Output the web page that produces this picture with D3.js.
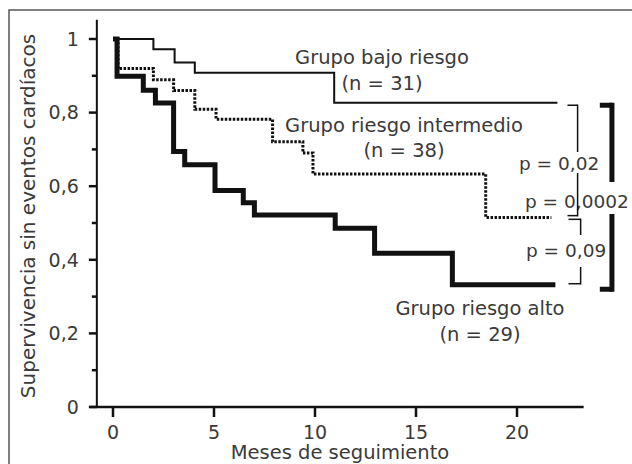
<!DOCTYPE html>
<html>
<head>
<meta charset="utf-8">
<script src="https://cdn.jsdelivr.net/npm/d3@7"></script>
<style>
  body { margin: 0; background: #fff; }
  text { font-family: "DejaVu Sans", sans-serif; fill: #3a3a3a; }
</style>
</head>
<body>
<div id="container"></div>
<script>
// Kaplan-Meier curves (months, survival)
const lowTimes = [0, 2.0, 3.05, 4.05, 10.95, 22.0];
const lowSurv  = [1, 0.972, 0.936, 0.908, 0.827, 0.827];

const midTimes = [0, 0.25, 2.0, 3.0, 4.05, 5.1, 7.9, 9.4, 9.9, 18.45, 21.7];
const midSurv  = [1, 0.92, 0.889, 0.86, 0.809, 0.782, 0.721, 0.69, 0.633, 0.515, 0.515];

const highTimes = [0, 0.2, 1.5, 2.1, 3.0, 3.55, 5.05, 6.45, 7.0, 11.0, 12.95, 16.8, 21.9];
const highSurv  = [1, 0.899, 0.861, 0.826, 0.694, 0.658, 0.588, 0.555, 0.522, 0.486, 0.418, 0.332, 0.332];

const xTicks = [0, 5, 10, 15, 20];
const yTicks = [0, 0.2, 0.4, 0.6, 0.8, 1];
const yMinorTicks = [0.1, 0.3, 0.5, 0.7, 0.9];
const yTickLabels = ["0", "0,2", "0,4", "0,6", "0,8", "1"];

const groupLabels = ["Grupo bajo riesgo", "Grupo riesgo intermedio", "Grupo riesgo alto"];
const groupN = ["(n = 31)", "(n = 38)", "(n = 29)"];
const pLabels = ["p = 0,02", "p = 0,0002", "p = 0,09"];

const width = 632;
const height = 464;

const svg = d3.create("svg")
    .attr("width", width)
    .attr("height", height);

// scales: 0..20 months -> 113..517, survival 0..1 -> 407..39
const x = d3.scaleLinear().domain([0, 20]).range([113, 517]);
const y = d3.scaleLinear().domain([0, 1]).range([407, 39]);
const x0 = x(-0.8); // where the y axis sits

// outer frame (only top and left edges show)
svg.append("rect")
    .attr("x", 9)
    .attr("y", 10)
    .attr("width", 700)
    .attr("height", 600)
    .attr("fill", "none")
    .attr("stroke", "#555")
    .attr("stroke-width", 1.5);

// y axis
svg.append("line")
    .attr("x1", x0).attr("x2", x0)
    .attr("y1", y(1.052)).attr("y2", y(0))
    .attr("stroke", "#111").attr("stroke-width", 2);

svg.selectAll(".ymajor")
  .data(yTicks)
  .join("line")
    .attr("x1", x0 - 8).attr("x2", x0)
    .attr("y1", d => y(d)).attr("y2", d => y(d))
    .attr("stroke", "#111").attr("stroke-width", 2.5);

svg.selectAll(".yminor")
  .data(yMinorTicks)
  .join("line")
    .attr("x1", x0 - 5).attr("x2", x0)
    .attr("y1", d => y(d)).attr("y2", d => y(d))
    .attr("stroke", "#111").attr("stroke-width", 2.5);

svg.selectAll(".ylab")
  .data(yTicks)
  .join("text")
    .attr("x", x0 - 18)
    .attr("y", d => y(d))
    .attr("dy", "0.36em")
    .attr("text-anchor", "end")
    .attr("font-size", 19)
    .text((d, i) => yTickLabels[i]);

// x axis
svg.append("line")
    .attr("x1", x(-1.15)).attr("x2", x(23.3))
    .attr("y1", y(0)).attr("y2", y(0))
    .attr("stroke", "#111").attr("stroke-width", 2.5);

svg.selectAll(".xtick")
  .data(xTicks)
  .join("line")
    .attr("x1", d => x(d)).attr("x2", d => x(d))
    .attr("y1", y(0)).attr("y2", y(0) + 10)
    .attr("stroke", "#111").attr("stroke-width", 2.5);

svg.selectAll(".xlab")
  .data(xTicks)
  .join("text")
    .attr("x", d => x(d))
    .attr("y", 439)
    .attr("text-anchor", "middle")
    .attr("font-size", 19)
    .text(d => d);

// axis titles
svg.append("text")
    .attr("x", 340)
    .attr("y", 459)
    .attr("text-anchor", "middle")
    .attr("font-size", 19.5)
    .text("Meses de seguimiento");

svg.append("text")
    .attr("transform", "translate(35,216) rotate(-90)")
    .attr("text-anchor", "middle")
    .attr("font-size", 20)
    .text("Supervivencia sin eventos cardíacos");

// curves
const step = d3.line()
    .x(d => x(d[0]))
    .y(d => y(d[1]))
    .curve(d3.curveStepAfter);

svg.append("path")
    .attr("d", step(d3.zip(lowTimes, lowSurv)))
    .attr("fill", "none")
    .attr("stroke", "#111")
    .attr("stroke-width", 2);

svg.append("path")
    .attr("d", step(d3.zip(midTimes, midSurv)))
    .attr("fill", "none")
    .attr("stroke", "#111")
    .attr("stroke-width", 3)
    .attr("stroke-dasharray", "2.5,1.5");

svg.append("path")
    .attr("d", step(d3.zip(highTimes, highSurv)))
    .attr("fill", "none")
    .attr("stroke", "#111")
    .attr("stroke-width", 5);

// group labels
const labelPos = [[382, 64, 90], [404, 132, 157], [480, 315, 341]];
labelPos.forEach((p, i) => {
  svg.append("text")
      .attr("x", p[0]).attr("y", p[1])
      .attr("text-anchor", "middle")
      .attr("font-size", 19.5)
      .text(groupLabels[i]);
  svg.append("text")
      .attr("x", p[0]).attr("y", p[2])
      .attr("text-anchor", "middle")
      .attr("font-size", 19.5)
      .text(groupN[i]);
});

// p values and comparison brackets
const pPos = [[519, 170], [525, 208], [526, 257]];
pPos.forEach((p, i) => {
  svg.append("text")
      .attr("x", p[0]).attr("y", p[1])
      .attr("font-size", 18.5)
      .text(pLabels[i]);
});

function bracket(xv, xt, yTop, yBot, gap, sw) {
  const g = svg.append("g")
      .attr("fill", "none")
      .attr("stroke", "#111")
      .attr("stroke-width", sw);
  g.append("line").attr("x1", xt).attr("x2", xv).attr("y1", yTop).attr("y2", yTop);
  g.append("line").attr("x1", xt).attr("x2", xv).attr("y1", yBot).attr("y2", yBot);
  g.append("line").attr("x1", xv).attr("x2", xv).attr("y1", yTop - sw / 2).attr("y2", gap[0]);
  g.append("line").attr("x1", xv).attr("x2", xv).attr("y1", gap[1]).attr("y2", yBot + sw / 2);
}

// low vs intermediate
bracket(x(23.0), x(22.5), y(0.82), y(0.52), [pPos[0][1] - 18, pPos[0][1] + 3], 1.5);
// intermediate vs high
bracket(x(23.15), x(22.55), y(0.51), y(0.335), [pPos[2][1] - 22, pPos[2][1] + 10], 1.5);
// low vs high
bracket(x(24.7), x(24.1), y(0.82), y(0.32), [pPos[1][1] - 26, pPos[1][1] + 6], 5);

container.append(svg.node());
</script>
</body>
</html>
